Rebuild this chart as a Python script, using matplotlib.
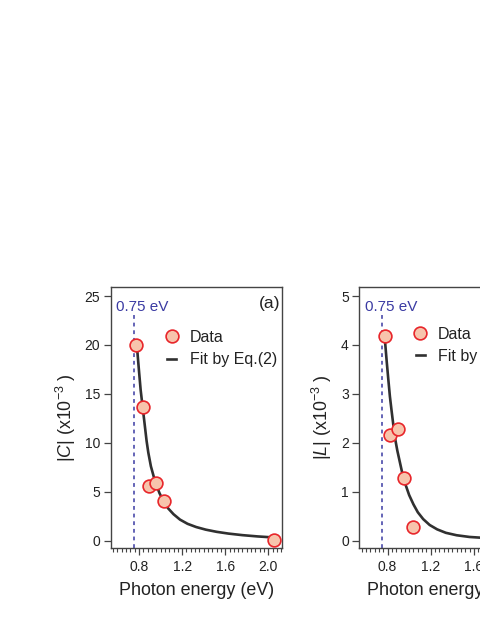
import matplotlib
matplotlib.use('Agg')
import matplotlib.pyplot as plt
from matplotlib.ticker import MultipleLocator

plt.rcParams['font.family'] = ['Liberation Sans', 'DejaVu Sans']
plt.rcParams['mathtext.fontset'] = 'custom'
plt.rcParams['mathtext.rm'] = 'Liberation Sans'
plt.rcParams['mathtext.it'] = 'Liberation Sans:italic'

# panel (a): |C|
cEnergy = [0.772, 0.834, 0.893, 0.962, 1.035, 2.053]
cValues = [20.0, 13.7, 5.55, 5.85, 4.0, 0.08]
cFitEnergy = [0.778, 0.79, 0.80, 0.815, 0.834, 0.85, 0.87, 0.886, 0.91, 0.95, 0.99, 1.026,
              1.07, 1.12, 1.18, 1.25, 1.33, 1.42, 1.52, 1.63, 1.76, 1.90, 2.04]
cFitValues = [20.2, 18.6, 17.3, 15.4, 13.6, 12.1, 10.2, 9.0, 7.6, 6.0, 4.85, 4.05,
              3.3, 2.7, 2.15, 1.72, 1.39, 1.12, 0.90, 0.72, 0.56, 0.43, 0.33]

# panel (b): |L|
lEnergy = [0.775, 0.821, 0.893, 0.954, 1.032]
lValues = [4.19, 2.15, 2.29, 1.29, 0.28]
lFitEnergy = [0.775, 0.79, 0.805, 0.821, 0.837, 0.852, 0.87, 0.89, 0.914, 0.94, 0.97, 1.00,
              1.04, 1.08, 1.13, 1.19, 1.26, 1.34, 1.44, 1.56, 1.70, 1.86, 2.05]
lFitValues = [4.10, 3.70, 3.33, 2.95, 2.65, 2.38, 2.08, 1.84, 1.60, 1.34, 1.12, 0.93,
              0.74, 0.58, 0.44, 0.32, 0.23, 0.16, 0.11, 0.075, 0.055, 0.04, 0.03]

edgeEnergy = 0.75
xTicks = [0.8, 1.2, 1.6, 2.0]

textColor = '#222222'
blue = '#3b3ba3'


def drawPanel(ax, energy, values, fitEnergy, fitValues, ymax, ytick, ylabel, tag, legendAnchor):
    ax.axvline(edgeEnergy, ymin=0, ymax=0.905, color=blue, linestyle=(0, (2.5, 2.5)), linewidth=1.1)
    ax.plot(fitEnergy, fitValues, '-', color='#303030', linewidth=1.9, label='Fit by Eq.(2)', zorder=3)
    ax.plot(energy, values, 'o', markersize=9.2, markerfacecolor='#f7c4ac', markeredgecolor='#e8262b',
            markeredgewidth=1.2, linestyle='none', label='Data', zorder=4)

    ax.set_xlim(0.537, 2.127)
    ax.set_ylim(-0.03 * ymax, 1.037 * ymax)
    ax.set_xticks(xTicks)
    ax.set_xticklabels(['0.8', '1.2', '1.6', '2.0'])
    ax.xaxis.set_minor_locator(MultipleLocator(0.04))
    ax.yaxis.set_major_locator(MultipleLocator(ytick))
    ax.tick_params(axis='both', which='major', direction='out', length=5, width=0.9,
                   color='#444444', labelsize=10, labelcolor=textColor, pad=2.5)
    ax.tick_params(axis='x', which='minor', direction='out', length=2.8, width=0.8, color='#444444')
    ax.tick_params(axis='x', which='major', pad=3.5)
    for spine in ax.spines.values():
        spine.set_color('#444444')
        spine.set_linewidth(1.0)

    ax.set_xlabel('Photon energy (eV)', fontsize=12.9, color=textColor, labelpad=6)
    ax.set_ylabel(ylabel, fontsize=12.9, color=textColor, labelpad=5)

    ax.text(0.59, 0.924, '0.75 eV', transform=ax.get_xaxis_transform(), fontsize=11,
            color=blue, ha='left', va='center')
    ax.text(0.992, 0.9375, tag, transform=ax.transAxes, fontsize=12.6, color=textColor,
            ha='right', va='center')

    handles, labels = ax.get_legend_handles_labels()
    ax.legend(handles[::-1], labels[::-1], loc='upper left', bbox_to_anchor=legendAnchor,
              frameon=False, fontsize=11.5, handlelength=0.55, handletextpad=0.85,
              labelspacing=0.45, borderpad=0, borderaxespad=0, labelcolor=textColor)


fig = plt.figure(figsize=(4.8, 6.21), dpi=100)
axC = fig.add_axes([0.2306, 0.1176, 0.357, 0.4203])
axL = fig.add_axes([0.7485, 0.1176, 0.357, 0.4203])

drawPanel(axC, cEnergy, cValues, cFitEnergy, cFitValues, 25, 5, r'|$C$| (x10$^{-3}$ )', '(a)', (0.33, 0.835))
drawPanel(axL, lEnergy, lValues, lFitEnergy, lFitValues, 5, 1, r'|$L$| (x10$^{-3}$ )', '(b)', (0.33, 0.848))

fig.savefig('out.png', dpi=100)
